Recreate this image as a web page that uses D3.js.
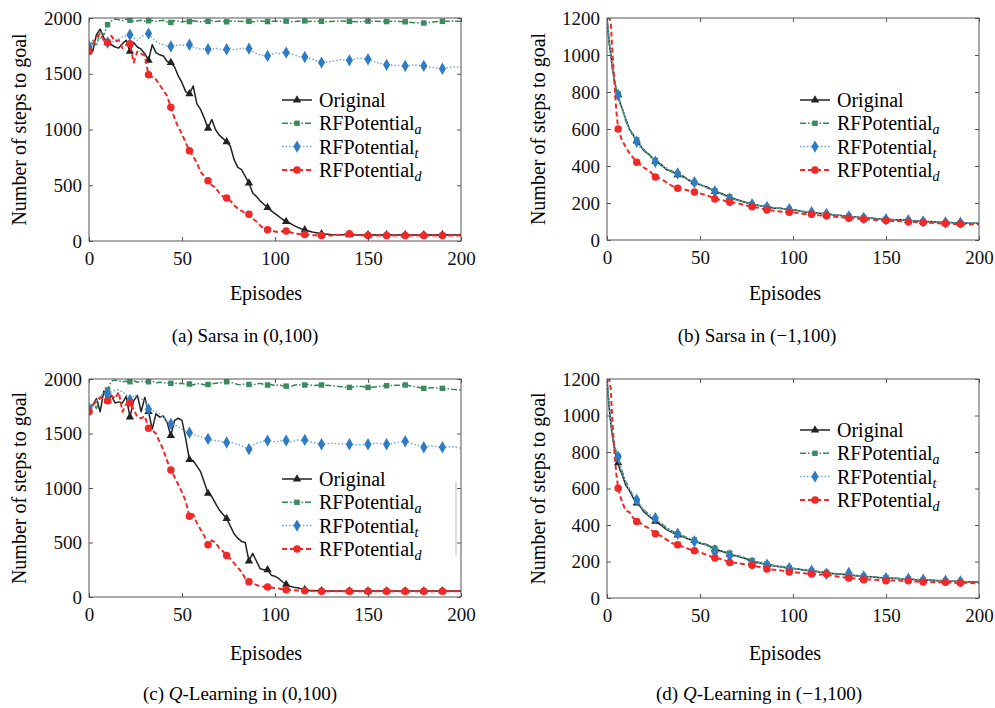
<!DOCTYPE html>
<html>
<head>
<meta charset="utf-8">
<script src="https://cdn.jsdelivr.net/npm/d3@7"></script>
<style>
  body { margin: 0; background: #fff; }
</style>
</head>
<body>
<div id="chart"></div>
<script>
const FONT = "Liberation Serif";

// episode grids (left panels: (0,100) rewards, right panels: (-1,100) rewards)
const episodesLeft = d3.range(0, 121, 2).concat(d3.range(125, 201, 5));
const episodesRight = [0, 1, 2, 3, 4, 5, 6, 7, 8, 10, 12, 14, 16, 18, 20, 23, 26, 29, 32, 35, 38, 41, 44, 47, 50]
  .concat(d3.range(54, 199, 4), [200]);

const markersLeft = [0, 10, 22, 32, 44, 54, 64, 74, 86, 96, 106, 116, 125, 140, 150, 160, 170, 180, 190];
const markersRight = [6, 16, 26, 38, 47, 58, 66, 78, 86, 98, 110, 118, 130, 138, 150, 162, 170, 182, 190];

const seriesNames = ["Original", "RFPotential", "RFPotential", "RFPotential"];
const seriesSubs = ["", "a", "t", "d"];

// (a) Sarsa in (0,100)
const sarsaOrig = [1730,1700,1850,1900,1820,1780,1760,1740,1730,1770,1800,1700,1780,1740,1720,1680,1620,1760,1690,1670,
  1660,1610,1600,1560,1480,1420,1340,1320,1390,1230,1180,1100,1010,1090,1000,950,920,890,850,730,
  660,640,580,520,430,400,360,330,300,270,245,220,195,175,160,140,125,110,100,90,80,
  65,58,55,55,54,55,54,55,54,55,54,55,54,55,54,55];
const sarsaA = [1700,1800,1750,1880,1850,1940,1975,1990,1985,1975,1990,1980,1970,1975,1980,1970,1975,1978,1970,1975,
  1980,1965,1960,1975,1970,1965,1972,1968,1975,1970,1966,1972,1970,1975,1968,1972,1970,1966,1974,1970,
  1972,1968,1975,1970,1966,1972,1974,1970,1968,1972,1970,1975,1968,1972,1970,1966,1972,1970,1974,1968,1972,
  1970,1968,1974,1970,1966,1972,1970,1968,1972,1966,1958,1955,1965,1970,1972,1970];
const sarsaT = [1750,1760,1800,1820,1790,1780,1775,1800,1810,1830,1840,1850,1820,1800,1830,1850,1860,1820,1790,1770,
  1760,1750,1745,1750,1760,1755,1760,1760,1740,1730,1720,1725,1720,1715,1730,1720,1710,1720,1730,1715,
  1720,1730,1725,1725,1700,1680,1670,1660,1660,1670,1690,1680,1690,1690,1680,1670,1660,1650,1650,1640,1630,
  1600,1610,1625,1620,1640,1630,1600,1580,1575,1570,1580,1570,1555,1545,1560,1560];
const sarsaD = [1700,1760,1830,1860,1800,1780,1840,1790,1800,1730,1760,1770,1600,1700,1680,1660,1490,1470,1450,1400,
  1350,1300,1200,1100,1020,960,880,810,760,700,620,580,540,500,480,430,400,385,360,320,
  290,270,250,240,200,175,140,110,100,95,85,80,88,90,80,70,65,60,58,55,52,
  50,50,55,65,52,50,50,50,50,50,50,50,50,50,50,50];

// (b) Sarsa in (-1,100)
const sarsaOrig2 = [1200,1090,1000,925,860,815,785,740,715,655,600,570,535,510,480,
  460,425,410,380,372,352,345,322,315,298,
  285,262,250,230,218,204,195,185,181,172,171,164,161,152,150,144,142,135,133,127,
  125,119,119,113,113,109,109,105,104,99,100,96,96,93,93,90,91,89];
const sarsaA2 = [1200,1070,1010,915,870,805,790,735,720,645,605,560,540,500,488,
  452,430,402,388,365,358,338,328,310,302,
  280,266,246,233,215,207,192,188,178,175,168,166,158,154,148,146,140,137,131,129,
  123,121,117,115,111,110,107,106,102,101,98,97,95,94,92,91,90,90];
const sarsaT2 = [1200,1100,995,930,855,820,784,745,712,660,598,575,531,512,484,
  458,423,408,384,370,360,342,325,312,300,
  283,262,249,220,216,205,192,186,178,174,170,166,160,155,150,145,141,137,132,128,
  124,119,118,114,112,110,108,107,103,100,99,97,95,94,94,91,90,89];
const sarsaD2 = [1200,1200,1180,1000,850,700,600,570,540,504,470,445,420,408,390,
  372,340,330,312,292,280,276,266,260,252,
  240,222,216,204,200,188,180,173,162,158,153,150,147,141,139,134,131,126,123,118,
  116,112,111,106,105,103,101,98,97,94,93,90,89,87,86,84,85,84];

// (c) Q-Learning in (0,100)
const qOrig = [1720,1760,1820,1700,1890,1800,1850,1780,1790,1780,1840,1650,1800,1850,1700,1830,1700,1540,1680,1650,
  1660,1600,1480,1620,1640,1620,1450,1260,1250,1200,1150,1050,950,920,860,800,760,720,650,580,
  540,510,500,330,400,330,260,250,250,200,190,170,140,115,100,90,85,75,68,62,60,
  56,55,55,55,55,55,55,55,55,55,55,55,55,55,55,55];
const qA = [1720,1780,1730,1830,1870,1900,1980,1990,1985,1975,1980,1975,1985,1970,1980,1975,1975,1980,1965,1970,
  1965,1962,1960,1965,1955,1960,1950,1954,1945,1960,1955,1948,1950,1955,1962,1965,1970,1975,1970,1960,
  1950,1948,1955,1950,1945,1955,1960,1950,1945,1950,1940,1945,1938,1935,1930,1940,1950,1945,1945,1950,1940,
  1945,1940,1930,1923,1935,1923,1930,1939,1942,1945,1930,1914,1920,1914,1905,1899];
const qT = [1731,1750,1800,1840,1860,1868,1880,1895,1900,1880,1860,1807,1850,1840,1820,1800,1722,1710,1700,1680,
  1650,1610,1588,1580,1560,1540,1520,1508,1490,1480,1470,1460,1450,1440,1435,1430,1425,1417,1420,1410,
  1400,1390,1370,1356,1390,1410,1420,1430,1435,1430,1425,1430,1440,1435,1420,1430,1440,1435,1441,1430,1420,
  1401,1410,1405,1401,1395,1401,1410,1401,1415,1429,1400,1374,1385,1374,1380,1365];
const qD = [1700,1760,1800,1830,1820,1800,1850,1820,1880,1700,1770,1780,1720,1650,1640,1660,1548,1530,1500,1420,
  1350,1250,1166,1100,1030,960,880,740,760,680,620,560,480,520,500,450,420,380,350,310,
  270,230,170,140,130,110,100,95,92,88,82,78,72,67,65,62,60,58,58,55,54,
  52,52,52,52,52,52,52,52,52,52,52,52,52,52,52,52];

// (d) Q-Learning in (-1,100)
const qOrig2 = [1200,1060,960,880,820,770,740,700,680,620,590,550,520,500,470,
  445,420,400,375,360,345,335,322,315,300,
  290,268,255,240,228,218,200,192,183,175,170,162,160,152,148,142,138,133,130,126,
  122,118,116,112,110,108,105,104,100,99,97,95,93,92,90,89,87,86];
const qA2 = [1200,1080,980,900,840,800,775,730,700,640,600,560,530,505,480,
  455,432,410,385,368,350,340,328,318,305,
  292,272,258,245,232,222,205,195,186,178,172,165,160,155,150,145,140,135,132,128,
  124,120,117,113,111,109,106,105,101,100,98,96,94,92,91,89,88,86];
const qT2 = [1200,1070,970,890,830,790,775,717,690,630,595,560,538,505,478,
  450,438,408,380,362,352,338,325,310,302,
  285,250,255,232,228,215,188,192,182,176,170,164,160,154,150,142,133,135,132,137,
  122,118,116,112,109,108,106,106,102,100,98,96,95,93,91,88,85,82];
const qD2 = [1200,1200,1150,950,800,680,602,560,530,480,470,440,419,410,395,
  380,352,340,320,300,292,280,268,259,250,
  235,219,212,195,192,185,179,170,159,155,150,142,140,135,131,128,131,120,115,109,
  106,100,102,98,95,96,95,95,90,88,88,86,86,84,82,83,81,80];

const xTicks = [0, 50, 100, 150, 200];
const yTicksLeft = [0, 500, 1000, 1500, 2000];
const yTicksRight = [0, 200, 400, 600, 800, 1000, 1200];

const styles = [
  { color: "#222222", mcolor: "#222222", dash: null, width: 1.5, marker: d3.symbolTriangle, msize: 30 },
  { color: "#2f8a55", mcolor: "#3b8a62", dash: "6,2,1.5,2", width: 1.5, marker: d3.symbolSquare, msize: 30 },
  { color: "#6fa8de", mcolor: "#2e7cc4", dash: "1.5,2", width: 1.5, marker: d3.symbolDiamond, msize: 44 },
  { color: "#f02828", mcolor: "#f02828", dash: "5,3", width: 2, marker: d3.symbolCircle, msize: 44 }
];

const panels = [
  { left: 89, top: 18, right: 461, bottom: 241, yTicks: yTicksLeft, x: episodesLeft, markers: markersLeft,
    data: [sarsaOrig, sarsaA, sarsaT, sarsaD], legend: [282, 100], xlab: [266, 300], ylab: [26, 129.5],
    caption: [245, 342], capParts: [["(a) Sarsa in (0,100)", false]] },
  { left: 607, top: 18, right: 979, bottom: 240, yTicks: yTicksRight, x: episodesRight, markers: markersRight,
    data: [sarsaOrig2, sarsaA2, sarsaT2, sarsaD2], legend: [800, 100], xlab: [785, 300], ylab: [545, 129],
    caption: [757, 342], capParts: [["(b) Sarsa in (\u22121,100)", false]] },
  { left: 89, top: 379, right: 461, bottom: 597, yTicks: yTicksLeft, x: episodesLeft, markers: markersLeft,
    data: [qOrig, qA, qT, qD], legend: [282, 479], xlab: [266, 660], ylab: [26, 488],
    caption: [240, 700], capParts: [["(c) ", false], ["Q", true], ["-Learning in (0,100)", false]], boxEdge: [456, 482, 555] },
  { left: 607, top: 379, right: 979, bottom: 598, yTicks: yTicksRight, x: episodesRight, markers: markersRight,
    data: [qOrig2, qA2, qT2, qD2], legend: [800, 430], xlab: [785, 660], ylab: [545, 488.5],
    caption: [759, 700], capParts: [["(d) ", false], ["Q", true], ["-Learning in (\u22121,100)", false]] }
];

const svg = d3.select("#chart").append("svg").attr("width", 995).attr("height", 708);

panels.forEach((p, pi) => {
  const x = d3.scaleLinear().domain([0, 200]).range([p.left, p.right]);
  const y = d3.scaleLinear().domain([0, d3.max(p.yTicks)]).range([p.bottom, p.top]);
  const g = svg.append("g");

  svg.append("clipPath").attr("id", "clip" + pi).append("rect")
    .attr("x", p.left).attr("y", p.top).attr("width", p.right - p.left).attr("height", p.bottom - p.top);

  // series
  const plot = g.append("g").attr("clip-path", `url(#clip${pi})`);
  p.data.forEach((vals, si) => {
    const st = styles[si];
    const pts = p.x.map((e, i) => [e, vals[i]]);
    plot.append("path")
      .attr("d", d3.line().x(d => x(d[0])).y(d => y(d[1]))(pts))
      .attr("fill", "none").attr("stroke", st.color).attr("stroke-width", st.width)
      .attr("stroke-dasharray", st.dash).attr("stroke-linejoin", "round");
    const mpts = p.markers.map(m => pts[d3.minIndex(pts, d => Math.abs(d[0] - m))]);
    plot.selectAll(null).data(mpts).enter().append("path")
      .attr("d", d3.symbol().type(st.marker).size(st.msize))
      .attr("transform", d => `translate(${x(d[0])},${y(d[1])})`)
      .attr("fill", st.mcolor);
  });

  // frame + inside ticks on all sides
  g.append("rect").attr("x", p.left).attr("y", p.top)
    .attr("width", p.right - p.left).attr("height", p.bottom - p.top)
    .attr("fill", "none").attr("stroke", "#555").attr("stroke-width", 1);
  const fmt = d3.format("d");
  const axB = d3.axisBottom(x).tickValues(xTicks).tickSizeInner(-4).tickSizeOuter(0).tickPadding(11).tickFormat(fmt);
  const axT = d3.axisTop(x).tickValues(xTicks).tickSizeInner(-4).tickSizeOuter(0).tickFormat("");
  const axL = d3.axisLeft(y).tickValues(p.yTicks).tickSizeInner(-4).tickSizeOuter(0).tickPadding(7).tickFormat(fmt);
  const axR = d3.axisRight(y).tickValues(p.yTicks).tickSizeInner(-4).tickSizeOuter(0).tickFormat("");
  [[axB, `translate(0,${p.bottom})`], [axT, `translate(0,${p.top})`],
   [axL, `translate(${p.left},0)`], [axR, `translate(${p.right},0)`]].forEach(([ax, tr]) => {
    const a = g.append("g").attr("transform", tr).call(ax);
    a.select(".domain").remove();
    a.selectAll("line").attr("stroke", "#555");
    a.selectAll("text").attr("fill", "#111")
      .attr("font-family", FONT).attr("font-size", 19);
  });

  // axis labels
  g.append("text").attr("x", p.xlab[0]).attr("y", p.xlab[1]).attr("text-anchor", "middle")
    .attr("font-family", FONT).attr("font-size", 20).text("Episodes");
  g.append("text").attr("transform", `translate(${p.ylab[0]},${p.ylab[1]}) rotate(-90)`)
    .attr("text-anchor", "middle").attr("font-family", FONT).attr("font-size", 20)
    .text("Number of steps to goal");

  // legend
  const [lx, ly] = p.legend;
  seriesNames.forEach((name, si) => {
    const st = styles[si];
    const yy = ly + si * 23.3;
    g.append("line").attr("x1", lx).attr("x2", lx + 30).attr("y1", yy).attr("y2", yy)
      .attr("stroke", st.color).attr("stroke-width", st.width).attr("stroke-dasharray", st.dash);
    g.append("path").attr("d", d3.symbol().type(st.marker).size(st.msize))
      .attr("transform", `translate(${lx + 15},${yy})`).attr("fill", st.mcolor);
    const t = g.append("text").attr("x", lx + 37).attr("y", yy + 7)
      .attr("font-family", FONT).attr("font-size", 20);
    t.append("tspan").text(name);
    if (seriesSubs[si]) {
      t.append("tspan").attr("dy", 4).attr("font-size", 14).attr("font-style", "italic").text(seriesSubs[si]);
    }
  });
  if (p.boxEdge) {
    g.append("line").attr("x1", p.boxEdge[0]).attr("x2", p.boxEdge[0])
      .attr("y1", p.boxEdge[1]).attr("y2", p.boxEdge[2]).attr("stroke", "#bbb").attr("stroke-width", 1);
  }

  // caption
  const cap = g.append("text").attr("x", p.caption[0]).attr("y", p.caption[1])
    .attr("text-anchor", "middle").attr("font-family", FONT).attr("font-size", 19);
  p.capParts.forEach(([s, it]) => {
    const ts = cap.append("tspan").text(s);
    if (it) ts.attr("font-style", "italic");
  });
});
</script>
</body>
</html>
